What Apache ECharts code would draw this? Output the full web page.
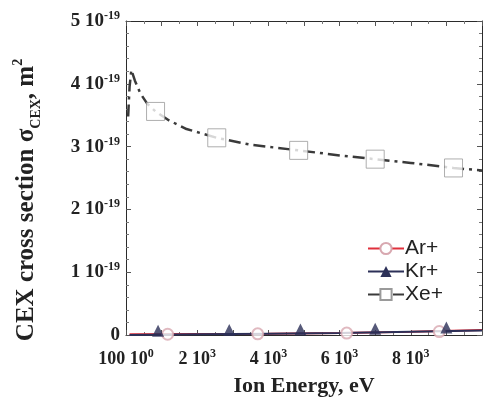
<!DOCTYPE html>
<html>
<head>
<meta charset="utf-8">
<script src="https://cdn.jsdelivr.net/npm/echarts@6/dist/echarts.min.js"></script>
<style>
  html, body { margin: 0; padding: 0; background: #fff; }
  #chart { width: 489px; height: 397px; }
</style>
</head>
<body>
<div id="chart"></div>
<script>
// cross sections in units of 1e-19 m^2, energy in eV
const xeEnergy = [60, 100, 150, 250, 400, 600, 830, 1200, 1700, 2550, 3500, 4850, 6000, 7000, 8000, 9200, 10000]
const xeSigma = [3.48, 3.95, 4.22, 4.05, 3.85, 3.68, 3.56, 3.42, 3.28, 3.14, 3.03, 2.94, 2.86, 2.80, 2.74, 2.66, 2.62]
const xeMarkEnergy = [830, 2550, 4850, 7000, 9200]
const xeMarkSigma = [3.56, 3.14, 2.94, 2.80, 2.66]

const arEnergy = [100, 2000, 4000, 6000, 8000, 10000]
const arSigma = [0.01, 0.015, 0.02, 0.03, 0.05, 0.08]
const arMarkEnergy = [1170, 3700, 6200, 8800]
const arMarkSigma = [0.012, 0.018, 0.03, 0.055]

const krEnergy = [100, 2000, 4000, 6000, 8000, 10000]
const krSigma = [0.0, 0.01, 0.02, 0.03, 0.05, 0.07]
const krMarkEnergy = [900, 2900, 4900, 7000, 9000]
const krMarkSigma = [0.005, 0.015, 0.025, 0.035, 0.055]

const zip = (xs, ys) => xs.map((x, i) => [x, ys[i]])

const serif = '"Liberation Serif", "Times New Roman", serif'
const sans = '"Liberation Sans", Arial, sans-serif'
const axisColor = '#2b2b2b'

const chart = echarts.init(document.getElementById('chart'), null, { renderer: 'canvas' })

const tickCommon = {
  axisLine: { show: true, onZero: false, lineStyle: { color: axisColor, width: 1 } },
  axisTick: { show: true, inside: true, length: 5, lineStyle: { color: '#555' } },
  splitLine: { show: false },
  minorSplitLine: { show: false },
}
const supStyle = { fontFamily: serif, fontWeight: 'bold', fontSize: 12, verticalAlign: 'top', lineHeight: 22, color: '#222' }

const option = {
  backgroundColor: '#fff',
  animation: false,
  grid: { left: 126, right: 7, top: 21, bottom: 62, outerBoundsMode: 'none', containLabel: false },
  legend: {
    data: ['Ar+', 'Kr+', 'Xe+'],
    orient: 'vertical',
    left: 362,
    top: 233,
    itemWidth: 36,
    itemHeight: 14,
    itemGap: 2,
    textStyle: { fontFamily: sans, fontSize: 21, color: '#222', padding: [0, 0, 0, -4] },
  },
  xAxis: [
    {
      type: 'value',
      min: 0,
      max: 10000,
      interval: 1000,
      ...tickCommon,
      minorTick: { show: true, splitNumber: 2, length: 3, lineStyle: { color: '#777' } },
      axisLabel: {
        margin: 13,
        fontFamily: serif,
        fontWeight: 'bold',
        fontSize: 18,
        color: '#222',
        formatter: v => {
          if (v === 0) return '100 10{sup|0}'
          if (v % 2000 === 0 && v < 10000) return (v / 1000) + ' 10{sup|3}'
          return ''
        },
        rich: { sup: supStyle },
      },
      name: 'Ion Energy, eV',
      nameLocation: 'middle',
      nameGap: 40,
      nameTextStyle: { fontFamily: serif, fontWeight: 'bold', fontSize: 22, color: '#222' },
    },
    {
      type: 'value',
      position: 'top',
      min: 0,
      max: 10000,
      interval: 1000,
      ...tickCommon,
      minorTick: { show: true, splitNumber: 2, length: 3, lineStyle: { color: '#777' } },
      axisLabel: { show: false },
    },
  ],
  yAxis: [
    {
      type: 'value',
      min: 0,
      max: 5,
      interval: 1,
      ...tickCommon,
      minorTick: { show: true, splitNumber: 5, length: 3, lineStyle: { color: '#777' } },
      axisLabel: {
        margin: 6,
        fontFamily: serif,
        fontWeight: 'bold',
        fontSize: 19,
        color: '#222',
        formatter: v => (v === 0 ? '0' : v + ' 10{sup|-19}'),
        rich: { sup: supStyle },
      },
    },
    {
      type: 'value',
      position: 'right',
      min: 0,
      max: 5,
      interval: 1,
      ...tickCommon,
      minorTick: { show: true, splitNumber: 5, length: 3, lineStyle: { color: '#777' } },
      axisLabel: { show: false },
    },
  ],
  graphic: [
    {
      type: 'text',
      x: 27,
      y: 200,
      rotation: Math.PI / 2,
      style: {
        text: '{b|CEX cross section σ}{s|CEX}{b|, m}{p|2}',
        align: 'center',
        verticalAlign: 'middle',
        fill: '#222',
        rich: {
          b: { fontFamily: serif, fontWeight: 'bold', fontSize: 25, lineHeight: 32, verticalAlign: 'middle', fill: '#222' },
          s: { fontFamily: serif, fontWeight: 'bold', fontSize: 14, lineHeight: 32, verticalAlign: 'bottom', fill: '#222' },
          p: { fontFamily: serif, fontWeight: 'bold', fontSize: 14, lineHeight: 32, verticalAlign: 'top', fill: '#222' },
        },
      },
    },
  ],
  series: [
    {
      name: 'Ar+',
      type: 'line',
      clip: false,
      showSymbol: false,
      symbol: 'emptyCircle',
      symbolSize: 11,
      lineStyle: { color: '#e0303c', width: 2 },
      itemStyle: { color: '#d8a8b0', borderWidth: 1 },
      data: zip(arEnergy, arSigma),
      z: 3,
    },
    {
      name: 'Kr+',
      type: 'line',
      clip: false,
      showSymbol: false,
      symbol: 'triangle',
      symbolSize: 12,
      lineStyle: { color: '#2c3058', width: 2 },
      itemStyle: { color: '#2c3058' },
      data: zip(krEnergy, krSigma),
      z: 4,
    },
    {
      name: 'Xe+',
      type: 'line',
      clip: false,
      showSymbol: false,
      symbol: 'emptyRect',
      symbolSize: 18,
      lineStyle: { color: '#3a3a3a', width: 2.5, type: [12, 5, 3, 5] },
      itemStyle: { color: '#9a9a9a', borderWidth: 1 },
      data: zip(xeEnergy, xeSigma),
      z: 3,
    },
    {
      type: 'scatter',
      clip: false,
      symbol: 'emptyCircle',
      symbolSize: 11,
      itemStyle: { color: '#d8a8b0', borderWidth: 1 },
      data: zip(arMarkEnergy, arMarkSigma),
      z: 5,
    },
    {
      type: 'scatter',
      clip: false,
      symbol: 'triangle',
      symbolSize: 12,
      symbolOffset: [0, -4],
      itemStyle: { color: '#2c3058' },
      data: zip(krMarkEnergy, krMarkSigma),
      z: 6,
    },
    {
      type: 'scatter',
      clip: false,
      symbol: 'rect',
      symbolSize: 18,
      itemStyle: { color: '#fff', borderColor: '#9a9a9a', borderWidth: 1 },
      data: zip(xeMarkEnergy, xeMarkSigma),
      z: 5,
    },
  ],
}

chart.setOption(option)
</script>
</body>
</html>
